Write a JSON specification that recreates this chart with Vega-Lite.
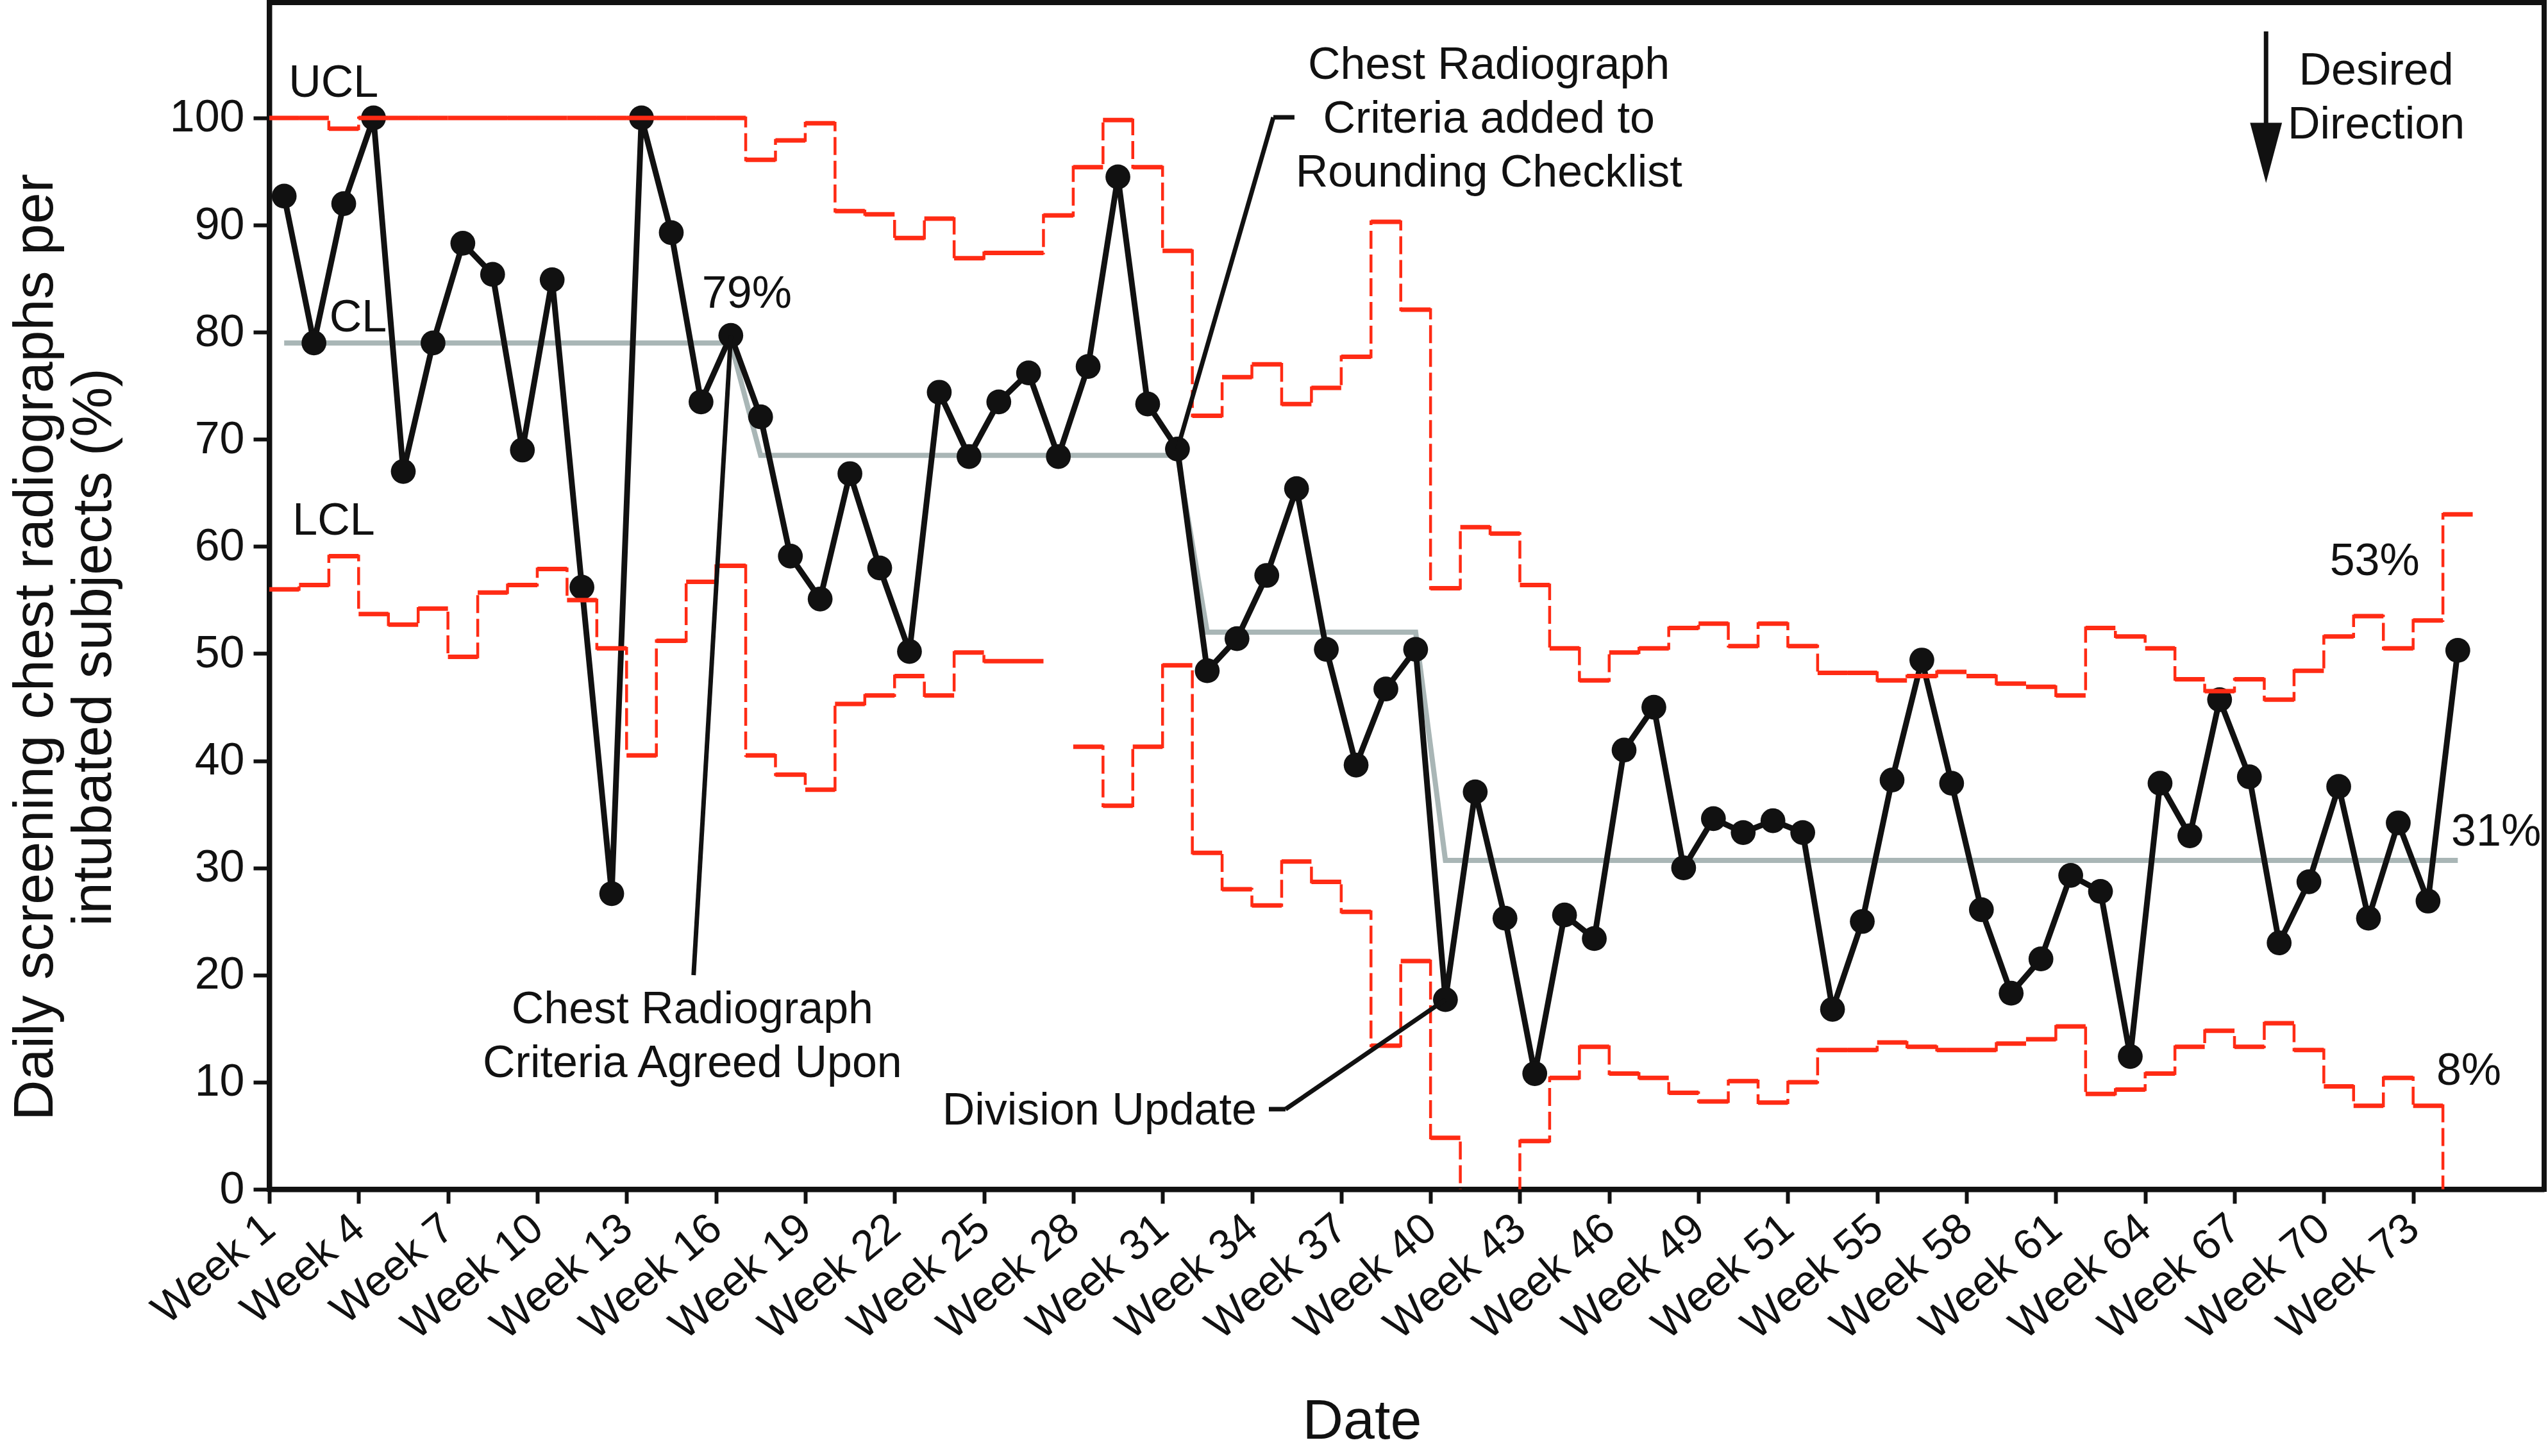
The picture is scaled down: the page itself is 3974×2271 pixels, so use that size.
{
  "$schema": "https://vega.github.io/schema/vega-lite/v6.json",
  "width": 3548,
  "height": 1851,
  "autosize": {"type": "none"},
  "padding": {"left": 420, "top": 4, "right": 6, "bottom": 416},
  "background": "white",
  "config": {
    "font": "Liberation Sans",
    "view": {"stroke": "#111111", "strokeWidth": 8},
    "axis": {"grid": false, "domainColor": "#111111", "domainWidth": 8, "tickColor": "#111111", "tickWidth": 6, "labelColor": "#111111", "titleColor": "#111111", "labelFont": "Liberation Sans", "titleFont": "Liberation Sans", "titleFontWeight": "normal"}
  },
  "datasets": {
    "spc": [
      {"week": 1, "value": 92.7, "cl": 79.0, "ucl": 100, "lcl": 56.0},
      {"week": 2, "value": 79.0, "cl": 79.0, "ucl": 100, "lcl": 56.4},
      {"week": 3, "value": 92.0, "cl": 79.0, "ucl": 99.0, "lcl": 59.1},
      {"week": 4, "value": 100.0, "cl": 79.0, "ucl": 100, "lcl": 53.7},
      {"week": 5, "value": 67.0, "cl": 79.0, "ucl": 100, "lcl": 52.7},
      {"week": 6, "value": 79.0, "cl": 79.0, "ucl": 100, "lcl": 54.2},
      {"week": 7, "value": 88.3, "cl": 79.0, "ucl": 100, "lcl": 49.7},
      {"week": 8, "value": 85.4, "cl": 79.0, "ucl": 100, "lcl": 55.7},
      {"week": 9, "value": 69.0, "cl": 79.0, "ucl": 100, "lcl": 56.4},
      {"week": 10, "value": 84.9, "cl": 79.0, "ucl": 100, "lcl": 57.9},
      {"week": 11, "value": 56.2, "cl": 79.0, "ucl": 100, "lcl": 55.0},
      {"week": 12, "value": 27.6, "cl": 79.0, "ucl": 100, "lcl": 50.5},
      {"week": 13, "value": 100.0, "cl": 79.0, "ucl": 100, "lcl": 40.5},
      {"week": 14, "value": 89.3, "cl": 79.0, "ucl": 100, "lcl": 51.2},
      {"week": 15, "value": 73.5, "cl": 79.0, "ucl": 100, "lcl": 56.7},
      {"week": 16, "value": 79.7, "cl": 79.0, "ucl": 100, "lcl": 58.2},
      {"week": 17, "value": 72.1, "cl": 68.5, "ucl": 96.1, "lcl": 40.5},
      {"week": 18, "value": 59.1, "cl": 68.5, "ucl": 97.9, "lcl": 38.7},
      {"week": 19, "value": 55.1, "cl": 68.5, "ucl": 99.5, "lcl": 37.3},
      {"week": 20, "value": 66.8, "cl": 68.5, "ucl": 91.3, "lcl": 45.3},
      {"week": 21, "value": 58.0, "cl": 68.5, "ucl": 91.0, "lcl": 46.1},
      {"week": 22, "value": 50.2, "cl": 68.5, "ucl": 88.8, "lcl": 47.9},
      {"week": 23, "value": 74.4, "cl": 68.5, "ucl": 90.6, "lcl": 46.1},
      {"week": 24, "value": 68.4, "cl": 68.5, "ucl": 86.9, "lcl": 50.1},
      {"week": 25, "value": 73.5, "cl": 68.5, "ucl": 87.4, "lcl": 49.3},
      {"week": 26, "value": 76.2, "cl": 68.5, "ucl": 87.4, "lcl": 49.3},
      {"week": 27, "value": 68.4, "cl": 68.5, "ucl": 90.9, "lcl": null},
      {"week": 28, "value": 76.8, "cl": 68.5, "ucl": 95.4, "lcl": 41.3},
      {"week": 29, "value": 94.5, "cl": 68.5, "ucl": 99.8, "lcl": 35.8},
      {"week": 30, "value": 73.3, "cl": 68.5, "ucl": 95.4, "lcl": 41.3},
      {"week": 31, "value": 69.1, "cl": 68.5, "ucl": 87.6, "lcl": 48.9},
      {"week": 32, "value": 48.4, "cl": 52.0, "ucl": 72.2, "lcl": 31.4},
      {"week": 33, "value": 51.4, "cl": 52.0, "ucl": 75.8, "lcl": 28.0},
      {"week": 34, "value": 57.3, "cl": 52.0, "ucl": 77.0, "lcl": 26.5},
      {"week": 35, "value": 65.4, "cl": 52.0, "ucl": 73.3, "lcl": 30.6},
      {"week": 36, "value": 50.4, "cl": 52.0, "ucl": 74.8, "lcl": 28.7},
      {"week": 37, "value": 39.6, "cl": 52.0, "ucl": 77.7, "lcl": 25.9},
      {"week": 38, "value": 46.7, "cl": 52.0, "ucl": 90.3, "lcl": 13.4},
      {"week": 39, "value": 50.4, "cl": 52.0, "ucl": 82.1, "lcl": 21.3},
      {"week": 40, "value": 17.7, "cl": 30.7, "ucl": 56.1, "lcl": 4.8},
      {"week": 41, "value": 37.1, "cl": 30.7, "ucl": 61.8, "lcl": -3},
      {"week": 42, "value": 25.3, "cl": 30.7, "ucl": 61.2, "lcl": -3},
      {"week": 43, "value": 10.8, "cl": 30.7, "ucl": 56.4, "lcl": 4.5},
      {"week": 44, "value": 25.6, "cl": 30.7, "ucl": 50.5, "lcl": 10.4},
      {"week": 45, "value": 23.4, "cl": 30.7, "ucl": 47.5, "lcl": 13.3},
      {"week": 46, "value": 41.0, "cl": 30.7, "ucl": 50.1, "lcl": 10.8},
      {"week": 47, "value": 45.0, "cl": 30.7, "ucl": 50.5, "lcl": 10.4},
      {"week": 48, "value": 30.0, "cl": 30.7, "ucl": 52.4, "lcl": 9.0},
      {"week": 49, "value": 34.6, "cl": 30.7, "ucl": 52.8, "lcl": 8.2},
      {"week": 50, "value": 33.3, "cl": 30.7, "ucl": 50.7, "lcl": 10.1},
      {"week": 51, "value": 34.4, "cl": 30.7, "ucl": 52.8, "lcl": 8.1},
      {"week": 52, "value": 33.3, "cl": 30.7, "ucl": 50.7, "lcl": 10.0},
      {"week": 53, "value": 16.8, "cl": 30.7, "ucl": 48.2, "lcl": 13.0},
      {"week": 54, "value": 25.0, "cl": 30.7, "ucl": 48.2, "lcl": 13.0},
      {"week": 55, "value": 38.2, "cl": 30.7, "ucl": 47.5, "lcl": 13.7},
      {"week": 56, "value": 49.4, "cl": 30.7, "ucl": 47.9, "lcl": 13.3},
      {"week": 57, "value": 37.9, "cl": 30.7, "ucl": 48.3, "lcl": 13.0},
      {"week": 58, "value": 26.1, "cl": 30.7, "ucl": 47.9, "lcl": 13.0},
      {"week": 59, "value": 18.3, "cl": 30.7, "ucl": 47.2, "lcl": 13.6},
      {"week": 60, "value": 21.5, "cl": 30.7, "ucl": 46.9, "lcl": 14.0},
      {"week": 61, "value": 29.3, "cl": 30.7, "ucl": 46.1, "lcl": 15.2},
      {"week": 62, "value": 27.8, "cl": 30.7, "ucl": 52.4, "lcl": 8.9},
      {"week": 63, "value": 12.4, "cl": 30.7, "ucl": 51.6, "lcl": 9.3},
      {"week": 64, "value": 37.9, "cl": 30.7, "ucl": 50.5, "lcl": 10.8},
      {"week": 65, "value": 33.0, "cl": 30.7, "ucl": 47.6, "lcl": 13.3},
      {"week": 66, "value": 45.7, "cl": 30.7, "ucl": 46.5, "lcl": 14.8},
      {"week": 67, "value": 38.5, "cl": 30.7, "ucl": 47.6, "lcl": 13.3},
      {"week": 68, "value": 23.0, "cl": 30.7, "ucl": 45.7, "lcl": 15.5},
      {"week": 69, "value": 28.7, "cl": 30.7, "ucl": 48.4, "lcl": 13.0},
      {"week": 70, "value": 37.6, "cl": 30.7, "ucl": 51.6, "lcl": 9.6},
      {"week": 71, "value": 25.3, "cl": 30.7, "ucl": 53.5, "lcl": 7.8},
      {"week": 72, "value": 34.2, "cl": 30.7, "ucl": 50.5, "lcl": 10.4},
      {"week": 73, "value": 26.9, "cl": 30.7, "ucl": 53.1, "lcl": 7.8},
      {"week": 74, "value": 50.3, "cl": 30.7, "ucl": 63.0, "lcl": -3}
    ],
    "leftText": [
      {"week": 1.15, "y": 102.0, "label": "UCL"},
      {"week": 2.52, "y": 80.1, "label": "CL"},
      {"week": 1.28, "y": 61.1, "label": "LCL"},
      {"week": 15.03, "y": 82.3, "label": "79%"},
      {"week": 69.7, "y": 57.3, "label": "53%"},
      {"week": 73.78, "y": 32.1, "label": "31%"},
      {"week": 73.28, "y": 9.75, "label": "8%"}
    ],
    "centerText": [
      {"week": 41.46, "y": 103.65, "label": "Chest Radiograph\nCriteria added to\nRounding Checklist"},
      {"week": 14.71, "y": 15.5, "label": "Chest Radiograph\nCriteria Agreed Upon"},
      {"week": 71.26, "y": 103.1, "label": "Desired\nDirection"}
    ],
    "rightText": [
      {"week": 33.66, "y": 6.04, "label": "Division Update"}
    ],
    "leaders": [
      {"week": 34.93, "y": 100.06, "week2": 34.22, "y2": 100.06},
      {"week": 34.22, "y": 100.06, "week2": 31.0, "y2": 69.1},
      {"week": 14.75, "y": 19.99, "week2": 16.0, "y2": 79.7},
      {"week": 34.07, "y": 7.48, "week2": 34.63, "y2": 7.48},
      {"week": 34.63, "y": 7.48, "week2": 40.0, "y2": 17.7},
      {"week": 67.56, "y": 108.08, "week2": 67.56, "y2": 99.52}
    ],
    "arrowHead": [
      {"week": 67.56, "y": 96.73}
    ]
  },
  "encoding": {
    "x": {"field": "week", "type": "quantitative", "scale": {"domain": [0.5, 76.9], "nice": false, "zero": false},
      "axis": {"values": [0.5, 3.5, 6.5, 9.5, 12.5, 15.5, 18.5, 21.5, 24.5, 27.5, 30.5, 33.5, 36.5, 39.5, 42.5, 45.5, 48.5, 51.5, 54.5, 57.5, 60.5, 63.5, 66.5, 69.5, 72.5],
        "labelExpr": "'Week ' + (datum.value == 51.5 ? 51 : datum.value + 0.5)",
        "labelAngle": -40, "labelAlign": "right", "labelBaseline": "middle", "labelFontSize": 67, "labelPadding": 30, "labelOverlap": false, "labelFlush": false, "labelLimit": 0,
        "tickSize": 22, "title": "Date", "titleFontSize": 88, "titleX": 1704, "titleY": 388, "titleAlign": "center", "titleBaseline": "alphabetic"}},
    "y": {"field": "y", "type": "quantitative", "scale": {"domain": [0, 110.77], "nice": false},
      "axis": {"values": [0, 10, 20, 30, 40, 50, 60, 70, 80, 90, 100], "labelFontSize": 70, "labelPadding": 14, "tickSize": 25, "labelFlush": false,
        "title": ["Daily screening chest radiographs per", "intubated subjects (%)"], "titleFontSize": 88, "titleLineHeight": 91,
        "titleX": -339, "titleY": 1005, "titleAlign": "center", "titleBaseline": "alphabetic", "titleAngle": -90}}
  },
  "layer": [
    {
      "data": {"name": "spc"},
      "transform": [{"fold": ["cl"], "as": ["series", "y"]}],
      "mark": {"type": "line", "color": "#a9b6b6", "strokeWidth": 8}
    },
    {
      "data": {"name": "spc"},
      "transform": [{"fold": ["value"], "as": ["series", "y"]}],
      "mark": {"type": "line", "color": "#111111", "strokeWidth": 9}
    },
    {
      "data": {"name": "spc"},
      "transform": [{"fold": ["value"], "as": ["series", "y"]}],
      "mark": {"type": "point", "filled": true, "color": "#111111", "opacity": 1, "size": 1500}
    },
    {
      "data": {"name": "spc"},
      "transform": [{"fold": ["ucl"], "as": ["series", "y"]}],
      "mark": {"type": "line", "interpolate": "step", "color": "#ff2b14", "strokeWidth": 4.5, "strokeDash": [28, 9], "clip": true, "invalid": "break-paths-show-domains"}
    },
    {
      "data": {"name": "spc"},
      "transform": [{"fold": ["lcl"], "as": ["series", "y"]}],
      "mark": {"type": "line", "interpolate": "step", "color": "#ff2b14", "strokeWidth": 4.5, "strokeDash": [28, 9], "clip": true, "invalid": "break-paths-show-domains"}
    },
    {
      "data": {"name": "spc"},
      "transform": [{"fold": ["ucl", "lcl"], "as": ["series", "y"]}],
      "mark": {"type": "tick", "orient": "horizontal", "size": 46.5, "thickness": 7, "color": "#ff2b14", "opacity": 1, "clip": true}
    },
    {
      "data": {"name": "leaders"},
      "mark": {"type": "rule", "color": "#111111", "strokeWidth": 7},
      "encoding": {
        "x2": {"field": "week2"},
        "y2": {"field": "y2"}
      }
    },
    {
      "data": {"name": "arrowHead"},
      "mark": {"type": "point", "shape": "M-0.53,-1L0.53,-1L0,1Z", "filled": true, "color": "#111111", "opacity": 1, "size": 8836}
    },
    {
      "data": {"name": "leftText"},
      "mark": {"type": "text", "align": "left", "baseline": "alphabetic", "fontSize": 70, "color": "#111111"},
      "encoding": {"text": {"field": "label"}}
    },
    {
      "data": {"name": "centerText"},
      "mark": {"type": "text", "align": "center", "baseline": "alphabetic", "fontSize": 70, "lineHeight": 84, "lineBreak": "\n", "color": "#111111"},
      "encoding": {"text": {"field": "label"}}
    },
    {
      "data": {"name": "rightText"},
      "mark": {"type": "text", "align": "right", "baseline": "alphabetic", "fontSize": 70, "color": "#111111"},
      "encoding": {"text": {"field": "label"}}
    }
  ]
}
